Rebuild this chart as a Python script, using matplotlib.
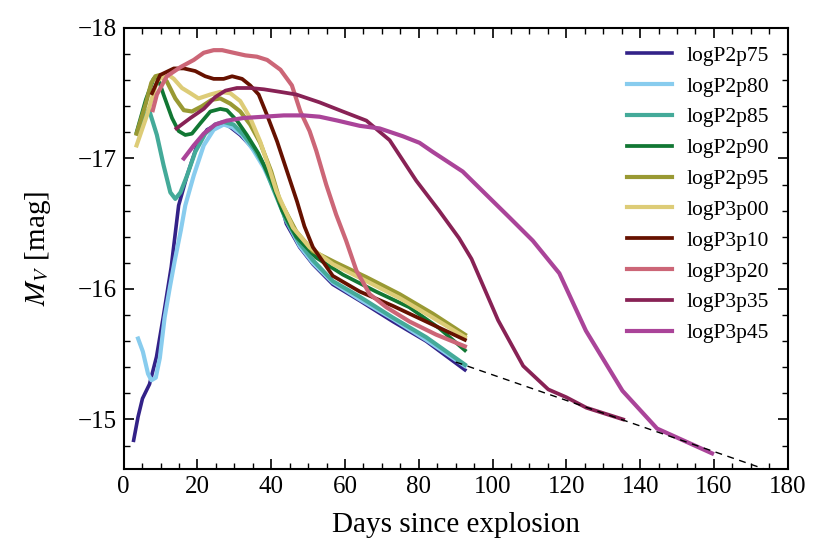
import matplotlib
matplotlib.use('Agg')
import matplotlib.pyplot as plt
from matplotlib.ticker import MultipleLocator

plt.rcParams['font.family'] = ['Liberation Serif', 'DejaVu Serif']
plt.rcParams['mathtext.fontset'] = 'stix'

# light curves: days since explosion, V-band magnitude
names = ['logP2p75', 'logP2p80', 'logP2p85', 'logP2p90', 'logP2p95',
         'logP3p00', 'logP3p10', 'logP3p20', 'logP3p35', 'logP3p45']
colors = ['#332288', '#88CCEE', '#44AA99', '#117733', '#999933',
          '#DDCC77', '#661100', '#CC6677', '#882255', '#AA4499']

t_2p75 = [2.7, 3.9, 5.1, 7.0, 8.9, 10.7, 12.9, 14.9, 17.2, 19.9, 22.6, 25.3, 27.1, 28.9,
          31.6, 34.3, 37.0, 39.8, 42.5, 44.1, 47.7, 51.3, 56.7, 64.0, 73.0, 82.0, 92.5]
m_2p75 = [-14.84, -15.02, -15.16, -15.27, -15.48, -15.78, -16.17, -16.64, -16.87, -17.10,
          -17.22, -17.26, -17.27, -17.24, -17.18, -17.10, -17.00, -16.85, -16.67, -16.50,
          -16.32, -16.19, -16.035, -15.91, -15.75, -15.60, -15.38]

t_2p80 = [3.9, 5.2, 6.6, 7.5, 8.7, 9.8, 11.1, 12.5, 13.8, 15.5, 16.7, 19.0, 21.7, 24.4,
          27.1, 29.4, 32.1, 35.0, 38.0, 41.0, 44.0, 47.7, 51.3, 56.7, 64.0, 73.0, 82.0, 92.5]
m_2p80 = [-15.62, -15.52, -15.35, -15.30, -15.32, -15.47, -15.78, -16.01, -16.21, -16.45,
          -16.64, -16.87, -17.10, -17.22, -17.26, -17.24, -17.18, -17.07, -16.93, -16.75,
          -16.53, -16.33, -16.20, -16.05, -15.92, -15.77, -15.61, -15.41]

t_2p85 = [3.8, 6.8, 9.0, 10.8, 12.65, 14.0, 15.4, 17.2, 19.4, 22.1, 24.8, 27.1, 29.8,
          32.5, 35.5, 38.0, 40.5, 44.0, 47.7, 51.3, 56.7, 64.0, 73.0, 82.0, 92.5]
m_2p85 = [-17.19, -17.38, -17.18, -16.95, -16.74, -16.69, -16.74, -16.87, -17.05, -17.19,
          -17.26, -17.28, -17.26, -17.18, -17.07, -16.95, -16.77, -16.53, -16.35, -16.22,
          -16.06, -15.94, -15.78, -15.63, -15.42]

t_2p90 = [3.5, 6.0, 8.1, 9.5, 10.8, 13.1, 14.9, 16.7, 18.5, 20.8, 23.5, 26.2, 28.0, 30.7,
          33.4, 36.5, 40.0, 43.0, 46.8, 52.2, 59.4, 68.4, 77.4, 85.5, 92.5]
m_2p90 = [-17.20, -17.45, -17.61, -17.60, -17.49, -17.31, -17.21, -17.18, -17.19, -17.27,
          -17.36, -17.38, -17.37, -17.29, -17.18, -17.04, -16.83, -16.60, -16.40, -16.24,
          -16.11, -15.98, -15.86, -15.70, -15.53]

t_2p95 = [3.5, 6.0, 7.5, 8.6, 9.9, 11.7, 14.0, 16.3, 18.5, 21.2, 23.9, 26.2, 28.9, 31.6,
          34.3, 37.0, 40.0, 42.3, 46.8, 51.3, 57.6, 65.8, 74.8, 83.8, 92.5]
m_2p95 = [-17.19, -17.42, -17.58, -17.63, -17.64, -17.59, -17.46, -17.37, -17.36, -17.40,
          -17.45, -17.46, -17.42, -17.36, -17.26, -17.12, -16.90, -16.68, -16.44, -16.29,
          -16.20, -16.09, -15.96, -15.81, -15.65]

t_3p00 = [3.5, 6.3, 9.0, 11.7, 13.6, 15.8, 18.1, 20.3, 23.5, 26.2, 28.9, 31.6, 34.3, 37.0,
          39.5, 41.4, 45.9, 50.4, 56.7, 65.8, 74.8, 83.8, 92.5]
m_3p00 = [-17.10, -17.33, -17.59, -17.65, -17.61, -17.54, -17.50, -17.46, -17.49, -17.51,
          -17.50, -17.44, -17.31, -17.13, -16.92, -16.75, -16.47, -16.32, -16.19, -16.06,
          -15.93, -15.78, -15.63]

t_3p10 = [7.7, 9.9, 13.6, 16.3, 19.4, 22.1, 24.4, 27.1, 29.4, 32.1, 34.3, 36.6, 38.9, 41.6,
          44.3, 47.0, 49.0, 51.3, 56.7, 64.0, 73.0, 82.0, 92.5]
m_3p10 = [-17.50, -17.64, -17.69, -17.69, -17.67, -17.63, -17.61, -17.61, -17.63, -17.61,
          -17.56, -17.49, -17.33, -17.13, -16.90, -16.67, -16.48, -16.32, -16.10, -15.98,
          -15.87, -15.75, -15.61]

t_3p20 = [7.9, 9.0, 11.7, 15.4, 19.0, 21.7, 24.4, 26.7, 29.8, 33.0, 36.1, 38.9, 42.5, 45.6,
          47.9, 50.4, 52.2, 54.9, 57.6, 60.3, 63.1, 66.7, 71.2, 77.5, 84.7, 92.5]
m_3p20 = [-17.37, -17.49, -17.63, -17.70, -17.755, -17.81, -17.83, -17.83, -17.81, -17.79,
          -17.78, -17.755, -17.68, -17.56, -17.36, -17.21, -17.06, -16.80, -16.57, -16.37,
          -16.14, -15.96, -15.86, -15.75, -15.65, -15.56]

t_3p35 = [14.3, 18.1, 21.7, 24.8, 27.6, 30.7, 34.3, 38.0, 42.5, 46.8, 53.1, 59.4, 65.8,
          72.1, 79.3, 85.5, 90.9, 94.3, 101.5, 108.3, 115.1, 120.0, 125.4, 135.4]
m_3p35 = [-17.23, -17.31, -17.38, -17.47, -17.52, -17.54, -17.54, -17.53, -17.51, -17.49,
          -17.43, -17.36, -17.29, -17.14, -16.83, -16.60, -16.39, -16.23, -15.76, -15.41,
          -15.23, -15.17, -15.09, -15.00]

t_3p45 = [16.3, 19.0, 21.7, 24.8, 28.0, 32.5, 38.0, 43.4, 48.8, 53.1, 58.0, 64.0, 69.4,
          75.7, 80.2, 83.8, 91.9, 99.1, 104.5, 110.9, 118.1, 125.3, 135.2, 144.6, 159.5]
m_3p45 = [-17.00, -17.10, -17.19, -17.26, -17.29, -17.31, -17.32, -17.33, -17.33, -17.32,
          -17.29, -17.25, -17.23, -17.17, -17.12, -17.05, -16.90, -16.70, -16.55, -16.37,
          -16.12, -15.68, -15.22, -14.93, -14.74]

times = [t_2p75, t_2p80, t_2p85, t_2p90, t_2p95, t_3p00, t_3p10, t_3p20, t_3p35, t_3p45]
mags = [m_2p75, m_2p80, m_2p85, m_2p90, m_2p95, m_3p00, m_3p10, m_3p20, m_3p35, m_3p45]
widths = [2.6, 3.0, 3.0, 2.7, 3.0, 3.0, 2.7, 3.0, 2.7, 3.0]

# 56Co decay tail (~0.98 mag / 100 d)
tail_t = [90.0, 180.0]
tail_m = [-15.44, -14.558]

fig = plt.figure(figsize=(8.3, 5.54), dpi=100)
ax = fig.add_axes([0.149, 0.1534, 0.8, 0.7961])

for t, m, c, n, w in zip(times, mags, colors, names, widths):
    ax.plot(t, m, color=c, lw=w, label=n)
ax.plot(tail_t, tail_m, 'k--', lw=1.0, dashes=(5, 4))

ax.set_xlim(0, 180)
ax.set_ylim(-14.62, -18.0)
ax.xaxis.set_major_locator(MultipleLocator(20))
ax.xaxis.set_minor_locator(MultipleLocator(5))
ax.yaxis.set_major_locator(MultipleLocator(1))
ax.yaxis.set_minor_locator(MultipleLocator(0.2))
ax.tick_params(which='both', direction='in', top=True, right=True, labelsize=18)
ax.tick_params(which='major', length=7, width=1.2, pad=5)
ax.tick_params(which='minor', length=4, width=1.0)
for s in ax.spines.values():
    s.set_linewidth(1.5)

ax.set_xlabel('Days since explosion', fontsize=21, labelpad=10)
ax.set_ylabel(r'$M_V$ [mag]', fontsize=21, labelpad=18)

ax.legend(loc='upper right', bbox_to_anchor=(0.995, 0.994), frameon=False,
          fontsize=15.5, handlelength=2.05, handletextpad=0.7, labelspacing=0.5,
          borderaxespad=0.3)

fig.savefig('out.png', dpi=100)
